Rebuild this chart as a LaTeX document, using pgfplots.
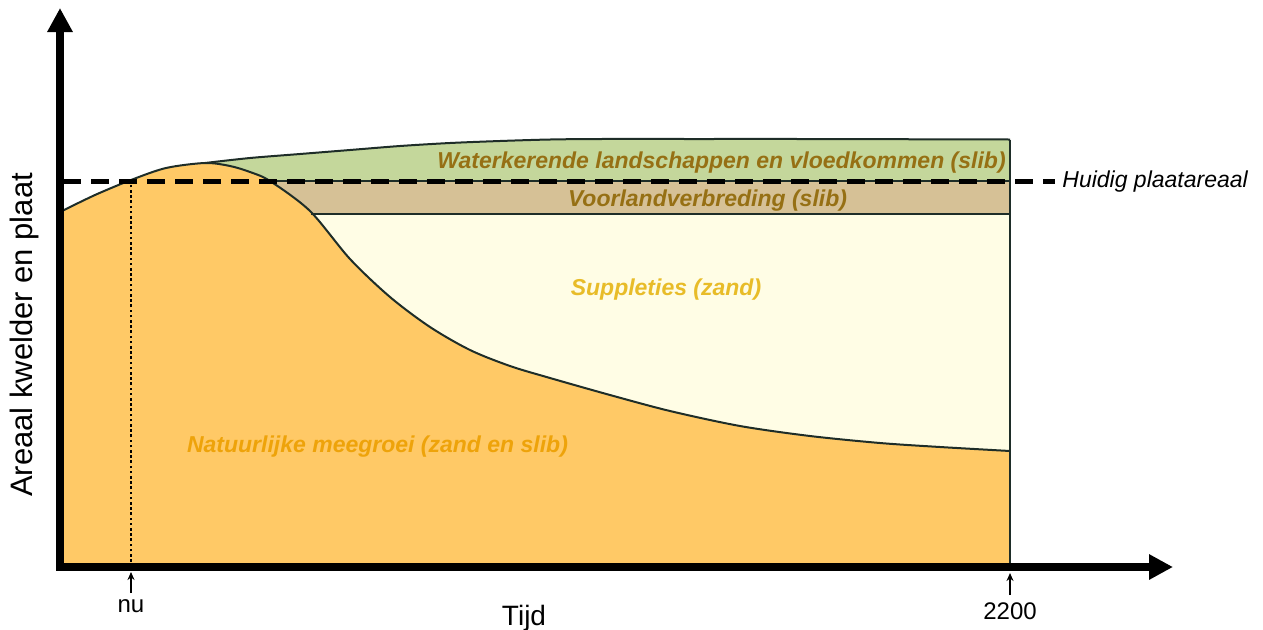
\documentclass[border=0pt]{standalone}
\usepackage{pgfplots}
\pgfplotsset{compat=1.18}
\usepackage{fontspec}
\setmainfont{Liberation Sans}
\usetikzlibrary{arrows.meta}
\definecolor{orangefill}{RGB}{255,201,102}
\definecolor{greenfill}{RGB}{196,215,155}
\definecolor{brownfill}{RGB}{214,193,150}
\definecolor{yellowfill}{RGB}{255,253,229}
\definecolor{outline}{RGB}{30,45,40}
\definecolor{goldtext}{RGB}{150,112,20}
\definecolor{supptext}{RGB}{232,188,40}
\definecolor{nattext}{RGB}{238,163,10}
\begin{document}
\begin{tikzpicture}
\begin{axis}[
  x=0.5pt, y=0.5pt,
  xmin=60, xmax=1173, ymin=0, ymax=559,
  axis lines*=left, axis on top, clip=false,
  xtick=\empty, ytick=\empty,
  axis line style={line width=3.6pt, line cap=rect, -{Triangle[length=12pt,width=12pt]}},
]
% fills
\addplot[fill=greenfill, draw=none, smooth] coordinates {
 (205,404) (250,409) (300,413) (350,417) (400,421) (450,424) (500,426)
 (550,427.5) (600,428) (700,428) (800,428) (1010,427.5)} \closedcycle;
\addplot[fill=brownfill, draw=none] coordinates {(260,386) (1010,386)} \closedcycle;
\addplot[fill=yellowfill, draw=none] coordinates {(300,353) (1010,353)} \closedcycle;
\addplot[fill=orangefill, draw=none, smooth] coordinates {
 (60,355) (95,372) (131,387) (166,399) (205,404) (230,401) (250,395) (270,386)
 (310,356) (350,308) (390,270) (430,240) (470,217) (510,201) (550,189)
 (610,172) (670,156) (740,141) (810,131) (880,124) (940,120) (1010,116)} \closedcycle;
% outlines
\addplot[outline, line width=1pt, smooth] coordinates {
 (205,404) (250,409) (300,413) (350,417) (400,421) (450,424) (500,426)
 (550,427.5) (600,428) (700,428) (800,428) (1010,427.5)};
\addplot[outline, line width=1pt] coordinates {(270,386) (1010,386)};
\addplot[outline, line width=1pt] coordinates {(311,353) (1010,353)};
\addplot[outline, line width=1pt] coordinates {(1010,0) (1010,427.5)};
\addplot[outline, line width=1pt, smooth] coordinates {
 (60,355) (95,372) (131,387) (166,399) (205,404) (230,401) (250,395) (270,386)
 (310,356) (350,308) (390,270) (430,240) (470,217) (510,201) (550,189)
 (610,172) (670,156) (740,141) (810,131) (880,124) (940,120) (1010,116)};
% reference lines
\addplot[black, line width=2.5pt, dash pattern=on 9pt off 5pt] coordinates {(63,386) (1055,386)};
\addplot[black, line width=1.2pt, dash pattern=on 1.3pt off 1.3pt] coordinates {(131,0) (131,386)};
% texts
\node[anchor=base, font=\fontsize{11.5}{13}\selectfont\bfseries\itshape, text=goldtext]
  at (axis cs:721.5,399) {Waterkerende landschappen en vloedkommen (slib)};
\node[anchor=base, font=\fontsize{11.5}{13}\selectfont\bfseries\itshape, text=goldtext]
  at (axis cs:707.5,361) {Voorlandverbreding (slib)};
\node[anchor=base, font=\fontsize{11.5}{13}\selectfont\bfseries\itshape, text=supptext]
  at (axis cs:666,272) {Suppleties (zand)};
\node[anchor=base, font=\fontsize{11.5}{13}\selectfont\bfseries\itshape, text=nattext]
  at (axis cs:377.5,115) {Natuurlijke meegroei (zand en slib)};
\node[anchor=base west, font=\fontsize{11.5}{13}\selectfont\itshape, text=black, inner sep=0pt]
  at (axis cs:1062,380) {Huidig plaatareaal};
\node[rotate=90, anchor=base, font=\fontsize{15.5}{18}\selectfont, inner sep=0pt]
  at (axis cs:33,232) {Areaal kwelder en plaat};
\node[anchor=base, font=\fontsize{14}{16}\selectfont, inner sep=0pt] at (axis cs:524,-58) {Tijd};
\node[anchor=base, font=\fontsize{12}{14}\selectfont, inner sep=0pt] at (axis cs:131,-45) {nu};
\node[anchor=base, font=\fontsize{12}{14}\selectfont, inner sep=0pt] at (axis cs:1010,-52) {2200};
\draw[-{Stealth[length=4pt,width=3.5pt]}, line width=0.8pt] (axis cs:131,-26) -- (axis cs:131,-5);
\draw[-{Stealth[length=4pt,width=3.5pt]}, line width=0.8pt] (axis cs:1010,-28) -- (axis cs:1010,-6);
\coordinate (bbl) at (axis cs:0,-62);
\coordinate (btr) at (axis cs:1263,567);
\end{axis}
\pgfresetboundingbox
\path[use as bounding box] (bbl) rectangle (btr);
\end{tikzpicture}
\end{document}
